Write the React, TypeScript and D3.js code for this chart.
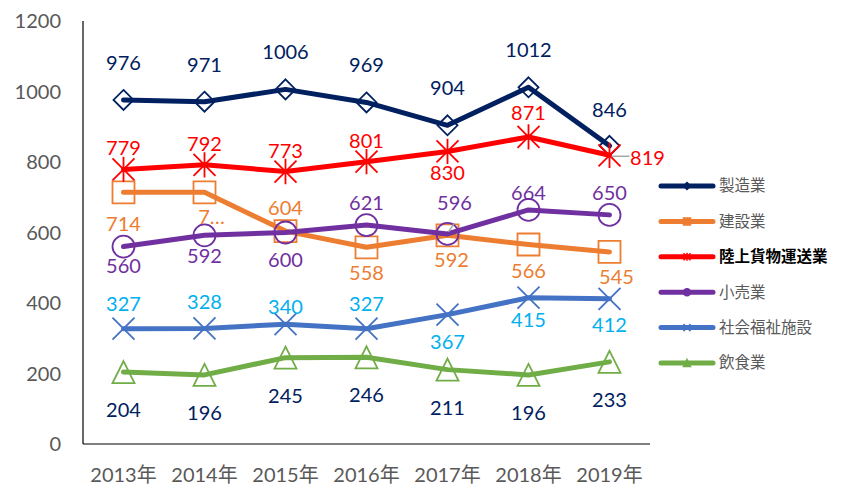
import React from 'react';
import * as d3 from 'd3';

const years = ['2013年', '2014年', '2015年', '2016年', '2017年', '2018年', '2019年'];
const seriesNames = ['製造業', '建設業', '陸上貨物運送業', '小売業', '社会福祉施設', '飲食業'];
const manufacturing = [976, 971, 1006, 969, 904, 1012, 846];
const construction = [714, 714, 604, 558, 592, 566, 545];
const freight = [779, 792, 773, 801, 830, 871, 819];
const retail = [560, 592, 600, 621, 596, 664, 650];
const welfare = [327, 328, 340, 327, 367, 415, 412];
const food = [204, 196, 245, 246, 211, 196, 233];
const yTicks = [0, 200, 400, 600, 800, 1000, 1200];

// layout / style config (not data)
const W = 844, H = 488;
const lineColors = ['#002060', '#ED7D31', '#FF0000', '#7030A0', '#4472C4', '#70AD47'];
const labelColors = ['#002060', '#ED7D31', '#FF0000', '#7030A0', '#00B0F0', '#002060'];
const markerKinds = ['diamond', 'square', 'star', 'circle', 'x', 'triangle'];
const labelOffsets: [number, number][][] = [
  [[0, -37], [0, -37], [0, -37], [0, -37], [0, -37], [0, -37], [0, -36]],
  [[0, 32], [7, 25], [0, -23], [0, 26], [4, 25], [0, 27], [7, 25]],
  [[0, -21], [0, -21], [0, -21], [0, -21], [0, 22], [0, -24], [38, 3]],
  [[0, 19], [0, 21], [0, 27], [0, -22], [7, -31], [0, -17], [0, -22]],
  [[0, -25], [0, -26], [0, -17], [0, -25], [0, 27], [0, 22], [0, 26]],
  [[0, 38], [0, 38], [0, 38], [0, 38], [0, 38], [0, 38], [0, 38]],
];
const labelOverrides: Record<string, string> = { '1-1': '7…' };

function markerPath(kind: string, s: number): string {
  switch (kind) {
    case 'diamond':
      return `M0,${-s}L${s},0L0,${s}L${-s},0Z`;
    case 'square':
      return `M${-s},${-s}H${s}V${s}H${-s}Z`;
    case 'circle':
      return `M${-s},0A${s},${s} 0 1,0 ${s},0A${s},${s} 0 1,0 ${-s},0Z`;
    case 'x':
      return `M${-s},${-s}L${s},${s}M${-s},${s}L${s},${-s}`;
    case 'star':
      return `M${-s},${-s}L${s},${s}M${-s},${s}L${s},${-s}M0,${-s * 1.15}V${s * 1.15}`;
    case 'triangle':
      return `M0,${-s}L${s},${s}H${-s}Z`;
  }
  return '';
}

export default function App() {
  const allSeries = [manufacturing, construction, freight, retail, welfare, food];
  const x = d3.scaleBand<string>().domain(years).range([83, 650]).padding(0);
  const cx = (i: number) => (x(years[i]) as number) + x.bandwidth() / 2;
  const y = d3.scaleLinear().domain([0, 1200]).range([444, 21]);
  const line = d3.line<number>().x((_, i) => cx(i)).y((d) => y(d));
  const markerSizes = [10, 11, 11, 11, 11, 11];
  const numFont = 'Lato, "Liberation Sans", sans-serif';
  const jpFont = '"Noto Sans CJK JP", sans-serif';

  return (
    <svg width={W} height={H} style={{ position: 'absolute', left: 0, top: 0, background: '#fff' }}>
      <rect width={W} height={H} fill="#fff" />
      {/* axes */}
      <line x1={83} x2={83} y1={21} y2={444} stroke="#000" strokeWidth={1.2} />
      <line x1={83} x2={650} y1={444} y2={444} stroke="#000" strokeWidth={1.2} />
      {yTicks.map((t) => (
        <text key={t} x={61} y={y(t)} dy="0.35em" textAnchor="end" fontSize={20}
          fill="#595959" fontFamily={numFont}>{t}</text>
      ))}
      {years.map((yr, i) => (
        <text key={yr} x={cx(i)} y={475} dy="0.35em" textAnchor="middle" fontSize={20}
          fill="#595959" fontFamily={`Lato, ${jpFont}`}>{yr}</text>
      ))}
      {/* series */}
      {allSeries.map((data, si) => (
        <g key={si}>
          <path d={line(data) as string} fill="none" stroke={lineColors[si]} strokeWidth={5}
            strokeLinecap="round" strokeLinejoin="round" />
          {data.map((v, i) => (
            <path key={i} transform={`translate(${cx(i)},${y(v)})`}
              d={markerPath(markerKinds[si], markerSizes[si])}
              fill="none" stroke={lineColors[si]} strokeWidth={1.8} />
          ))}
        </g>
      ))}
      {/* leader lines */}
      <line x1={cx(6) + 2} y1={y(freight[6]) + 1} x2={cx(6) + 20} y2={y(freight[6]) + 1}
        stroke="#A6A6A6" strokeWidth={1.5} />
      <line x1={cx(4) + 1} y1={y(retail[4]) - 2} x2={cx(4) + 7} y2={y(retail[4]) - 11}
        stroke="#A6A6A6" strokeWidth={1.5} />
      {/* labels */}
      {allSeries.map((data, si) => (
        <g key={'l' + si}>
          {data.map((v, i) => {
            const [dx, dy] = labelOffsets[si][i];
            const txt = labelOverrides[`${si}-${i}`] ?? String(v);
            return (
              <text key={i} x={cx(i) + dx} y={y(v) + dy} dy="0.35em" textAnchor="middle"
                fontSize={20} fill={labelColors[si]} fontFamily={numFont}>{txt}</text>
            );
          })}
        </g>
      ))}
      {/* legend */}
      {seriesNames.map((name, si) => {
        const ly = 186 + si * 35.4;
        return (
          <g key={name}>
            <line x1={661} x2={713} y1={ly} y2={ly} stroke={lineColors[si]} strokeWidth={5}
              strokeLinecap="round" />
            <path transform={`translate(687,${ly})`} d={markerPath(markerKinds[si], 3.5)}
              fill={lineColors[si]} stroke={lineColors[si]} strokeWidth={1.5} />
            <text x={719} y={ly} dy="0.35em" fontSize={15.5} fontFamily={jpFont}
              fill={si === 2 ? '#000' : '#595959'} fontWeight={si === 2 ? 'bold' : 'normal'}>{name}</text>
          </g>
        );
      })}
    </svg>
  );
}
